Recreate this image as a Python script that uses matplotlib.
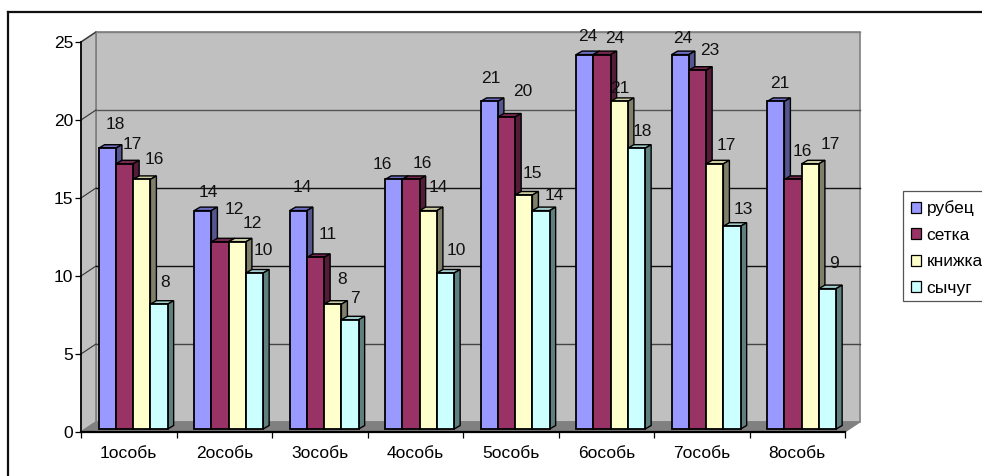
import matplotlib
matplotlib.use('Agg')
import matplotlib.pyplot as plt
from matplotlib.lines import Line2D
from matplotlib.patches import Patch, Polygon, Rectangle

matplotlib.rcParams.update({
    'font.family': ['Liberation Sans', 'DejaVu Sans'],
    'font.size': 12.5,
    'axes.linewidth': 1.2,
})

categories = ['1особь', '2особь', '3особь', '4особь',
              '5особь', '6особь', '7особь', '8особь']
series_names = ['рубец', 'сетка', 'книжка', 'сычуг']
rubets = [18, 14, 14, 16, 21, 24, 24, 21]
setka = [17, 12, 11, 16, 20, 24, 23, 16]
knizhka = [16, 12, 8, 14, 15, 21, 17, 17]
sychug = [8, 10, 7, 10, 14, 18, 13, 9]
yticks = [0, 5, 10, 15, 20, 25]

colors = ['#9999FF', '#993366', '#FFFFCC', '#CCFFFF']
top_colors = ['#6C6CC0', '#772850', '#CCCCA3', '#A3CCCC']
side_colors = ['#55558F', '#551C39', '#80806A', '#608080']
grid_colors = ['#444444', '#111111', '#111111', '#555555', '#808080']

# data label offsets from the top centre of each bar, in pixels
label_offsets = [
    [(8, 24), (8, 19), (13, 20), (6, 22)],
    [(6, 18), (14, 32), (15, 18), (9, 23)],
    [(4, 23), (12, 23), (9, 25), (5, 21)],
    [(-11, 15), (11, 16), (10, 23), (11, 23)],
    [(2, 23), (16, 25), (9, 22), (13, 15)],
    [(3, 18), (13, 16), (1, 13), (6, 17)],
    [(2, 16), (12, 20), (12, 18), (11, 17)],
    [(4, 18), (9, 28), (20, 19), (6, 25)],
]

W, H = 982, 476
CAT_PX = 95.5   # pixels per category
VAL_PX = 15.6   # pixels per unit of value


def px(n):
    return n / CAT_PX


def py(n):
    return n / VAL_PX


def draw_walls(ax):
    """Back wall, side wall and floor of the box behind the bars."""
    n = len(categories)
    dx, dy = px(15), py(10)
    top = yticks[-1]
    ax.add_patch(Polygon([(dx, dy), (n + dx, dy), (n + dx, top + dy), (dx, top + dy)],
                         fc='#C0C0C0', ec='#808080', lw=1.2, zorder=1, clip_on=False))
    ax.add_patch(Polygon([(0, 0), (dx, dy), (dx, top + dy), (0, top)],
                         fc='#C0C0C0', ec='#808080', lw=1.2, zorder=1, clip_on=False))
    ax.add_patch(Polygon([(0, 0), (dx, dy), (n + dx, dy), (n, 0)],
                         fc='#808080', ec='#808080', lw=0.8, zorder=2, clip_on=False))
    for y, c in zip(yticks[1:], grid_colors):
        ax.plot([0, dx], [y, y + dy], color='#333333', lw=0.8, zorder=2,
                clip_on=False)
        ax.plot([dx, n + dx], [y + dy, y + dy], color=c, lw=1.0, zorder=2,
                clip_on=False)


def draw_bars(ax, series):
    """Front face from ax.bar, then the top and the side as polygons."""
    width = px(17.25)
    group = width * len(series)
    shift, lift = px(4.4), py(3)
    dx, dy = px(6), py(3.5)
    for s, values in enumerate(series):
        z = 3 + s
        xs = [c + 0.5 + shift - group / 2 + width * (s + 0.5)
              for c in range(len(values))]
        for x, v in zip(xs, values):
            l, r, t = x - width / 2, x + width / 2, v + lift
            ax.add_patch(Polygon([(l, t), (l + dx, t + dy), (r + dx, t + dy), (r, t)],
                                 fc=top_colors[s], ec='black', lw=1.0, zorder=z,
                                 clip_on=False))
            ax.add_patch(Polygon([(r, lift), (r + dx, lift + dy), (r + dx, t + dy), (r, t)],
                                 fc=side_colors[s], ec='black', lw=1.0, zorder=z,
                                 clip_on=False))
        ax.bar(xs, values, width=width, bottom=lift, color=colors[s],
               edgecolor='black', linewidth=1.3, zorder=z, clip_on=False)
        for c, (x, v) in enumerate(zip(xs, values)):
            ax.annotate(str(v), (x, v + lift), xytext=label_offsets[c][s],
                        textcoords='offset pixels', ha='center', va='center',
                        color='#111111', zorder=10, annotation_clip=False)


fig = plt.figure(figsize=(W / 100, H / 100), dpi=100)
ax = fig.add_axes([81 / W, (H - 432) / H, 764 / W, 390 / H])
ax.set_xlim(0, len(categories))
ax.set_ylim(0, yticks[-1])

draw_walls(ax)
draw_bars(ax, [rubets, setka, knizhka, sychug])

for side in ('top', 'right'):
    ax.spines[side].set_visible(False)
ax.spines['bottom'].set_linewidth(1.6)
ax.patch.set_visible(False)
ax.spines['left'].set_zorder(9)
ax.spines['bottom'].set_zorder(9)

ax.set_yticks(yticks)
ax.tick_params(axis='y', length=4, width=0.9, pad=1.5)
ax.set_xticks(range(len(categories) + 1))
ax.set_xticklabels([])
ax.set_xticks([c + 0.5 for c in range(len(categories))], categories, minor=True)
ax.tick_params(axis='x', which='major', length=4, width=0.9)
ax.tick_params(axis='x', which='minor', length=0, pad=10)

# outer chart border, cut off by the right and bottom image edges
fig.add_artist(Line2D([8 / W, 1], [1 - 12 / H, 1 - 12 / H], color='#111111', lw=1.6))
fig.add_artist(Line2D([8 / W, 8 / W], [0, 1 - 12 / H], color='#111111', lw=1.6))

# legend box runs past the right edge, so it gets its own frame
fig.add_artist(Rectangle((903 / W, 1 - 301 / H), 100 / W, 110 / H, fc='white',
                         ec='#555555', lw=0.9, transform=fig.transFigure))
handles = [Patch(fc=c, ec='black', lw=0.9) for c in colors]
legend = fig.legend(handles, series_names, loc='upper left',
                    bbox_to_anchor=(901 / W, 1 - 191 / H), borderaxespad=0,
                    frameon=False, borderpad=0.55, labelspacing=0.66,
                    handlelength=0.6, handleheight=0.6, handletextpad=0.32,
                    fontsize=12.5)

fig.savefig('out.png', dpi=100)
